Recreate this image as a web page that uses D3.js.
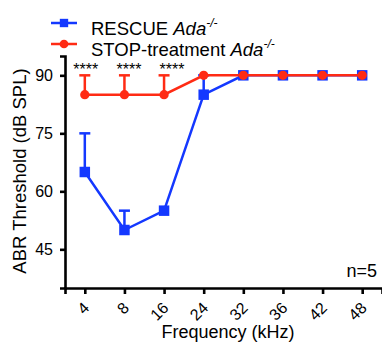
<!DOCTYPE html>
<html>
<head>
<meta charset="utf-8">
<script src="https://cdn.jsdelivr.net/npm/d3@7"></script>
<style>
    body{ margin:0; background:#fff; }
    svg text{ font-family:"Liberation Sans", Arial, Helvetica, sans-serif; fill:#000; }
</style>
</head>
<body>
<div id="abr-chart"></div>
<script>
// frequencies (kHz) on the x axis
let frequencies = ["4", "8", "16", "24", "32", "36", "42", "48"];
let yTicks = [45, 60, 75, 90];

// mean thresholds and upper error (mean + SEM)
let rescueMean = [65, 50, 55, 85, 90, 90, 90, 90];
let rescueUpper = [75, 55, 55, 90, 90, 90, 90, 90];
let stopMean = [85, 85, 85, 90, 90, 90, 90, 90];
let stopUpper = [90, 90, 90, 90, 90, 90, 90, 90];

// significance marks
let sigFreqs = ["4", "8", "16"];
let sigText = "****";

let blue = "#1438ff";
let red = "#ff2b14";

let margin = ({top: 56, right: 0, bottom: 57, left: 65});
let width = 382 - margin.left - margin.right;
let height = 345 - margin.top - margin.bottom;

let svg = d3.select("#abr-chart")
    .append("svg")
        .attr("width", 382)
        .attr("height", 345);

let g = svg.append("g")
    .attr("transform", "translate(" + margin.left + "," + margin.top + ")");

let x = d3.scalePoint()
    .domain(frequencies)
    .range([0, width])
    .padding(0.5);

let y = d3.scaleLinear()
    .domain([35, 95])
    .range([height, 0]);

//x axis
let xaxis = g.append("g")
    .attr("transform", "translate(0," + height + ")")
    .call(d3.axisBottom(x).tickSizeOuter(0).tickSize(6).tickPadding(6));
xaxis.select(".domain").attr("stroke-width", 2.6);
xaxis.selectAll(".tick line").attr("stroke-width", 2.6);
xaxis.selectAll(".tick text")
    .attr("font-size", "16px")
    .attr("text-anchor", "end")
    .attr("dy", null)
    .attr("y", 0)
    .attr("transform", "translate(5,21) rotate(-45)");

//y axis
let yaxis = g.append("g")
    .call(d3.axisLeft(y).tickValues(yTicks).tickSizeOuter(0).tickSize(5).tickPadding(7));
yaxis.select(".domain").attr("stroke-width", 2.6);
yaxis.selectAll(".tick line").attr("stroke-width", 2.6);
yaxis.selectAll(".tick text").attr("font-size", "16px");

//axis titles
svg.append("text")
    .attr("transform", "translate(26," + (margin.top + y(65) - 1) + ") rotate(-90)")
    .attr("text-anchor", "middle")
    .attr("font-size", "18.5px")
    .text("ABR Threshold (dB SPL)");

svg.append("text")
    .attr("x", 228)
    .attr("y", 338)
    .attr("text-anchor", "middle")
    .attr("font-size", "18px")
    .text("Frequency (kHz)");

svg.append("text")
    .attr("x", 377)
    .attr("y", 277)
    .attr("text-anchor", "end")
    .attr("font-size", "18px")
    .text("n=5");

function drawSeries(mean, upper, color, shape){
    let pts = frequencies.map(function(f, i){
        return {f: f, m: mean[i], u: upper[i]};
    });

    let line = d3.line()
        .x(function(d){ return x(d.f); })
        .y(function(d){ return y(d.m); });

    g.append("path")
        .datum(pts)
        .attr("fill", "none")
        .attr("stroke", color)
        .attr("stroke-width", 2.5)
        .attr("d", line);

    //error bars, upper side only
    let err = g.append("g").selectAll("g")
        .data(pts.filter(function(d){ return d.u > d.m; }))
        .enter().append("g")
        .attr("stroke", color)
        .attr("stroke-width", 2.5);
    err.append("line")
        .attr("x1", function(d){ return x(d.f); })
        .attr("x2", function(d){ return x(d.f); })
        .attr("y1", function(d){ return y(d.m); })
        .attr("y2", function(d){ return y(d.u); });
    err.append("line")
        .attr("x1", function(d){ return x(d.f) - 5.5; })
        .attr("x2", function(d){ return x(d.f) + 5.5; })
        .attr("y1", function(d){ return y(d.u); })
        .attr("y2", function(d){ return y(d.u); });

    let sym = d3.symbol().type(shape).size(shape === d3.symbolSquare ? 110 : 68);
    g.append("g").selectAll("path")
        .data(pts)
        .enter().append("path")
        .attr("transform", function(d){ return "translate(" + x(d.f) + "," + y(d.m) + ")"; })
        .attr("fill", color)
        .attr("d", sym);
}

drawSeries(rescueMean, rescueUpper, blue, d3.symbolSquare);
drawSeries(stopMean, stopUpper, red, d3.symbolCircle);

//significance stars
g.append("g").selectAll("text")
    .data(sigFreqs)
    .enter().append("text")
    .attr("x", function(d, i){ return x(d) + 1 + i * 3.5; })
    .attr("y", y(90))
    .attr("text-anchor", "middle")
    .attr("font-size", "16px")
    .text(sigText);

//legend
let legend = svg.append("g");
let items = [
    {name: "RESCUE ", color: blue, shape: d3.symbolSquare, size: 70, ly: 23, ty: 35},
    {name: "STOP-treatment ", color: red, shape: d3.symbolCircle, size: 60, ly: 44, ty: 56}
];
items.forEach(function(it){
    legend.append("line")
        .attr("x1", 51).attr("x2", 77)
        .attr("y1", it.ly).attr("y2", it.ly)
        .attr("stroke", it.color)
        .attr("stroke-width", 2.5);
    legend.append("path")
        .attr("transform", "translate(64," + it.ly + ")")
        .attr("fill", it.color)
        .attr("d", d3.symbol().type(it.shape).size(it.size));
    let t = legend.append("text")
        .attr("x", 91)
        .attr("y", it.ty)
        .attr("font-size", "18.5px");
    t.append("tspan").text(it.name);
    t.append("tspan").attr("font-style", "italic").text("Ada");
    t.append("tspan")
        .attr("font-style", "italic")
        .attr("font-size", "12px")
        .attr("dy", -8)
        .text("-/-");
});
</script>
</body>
</html>
